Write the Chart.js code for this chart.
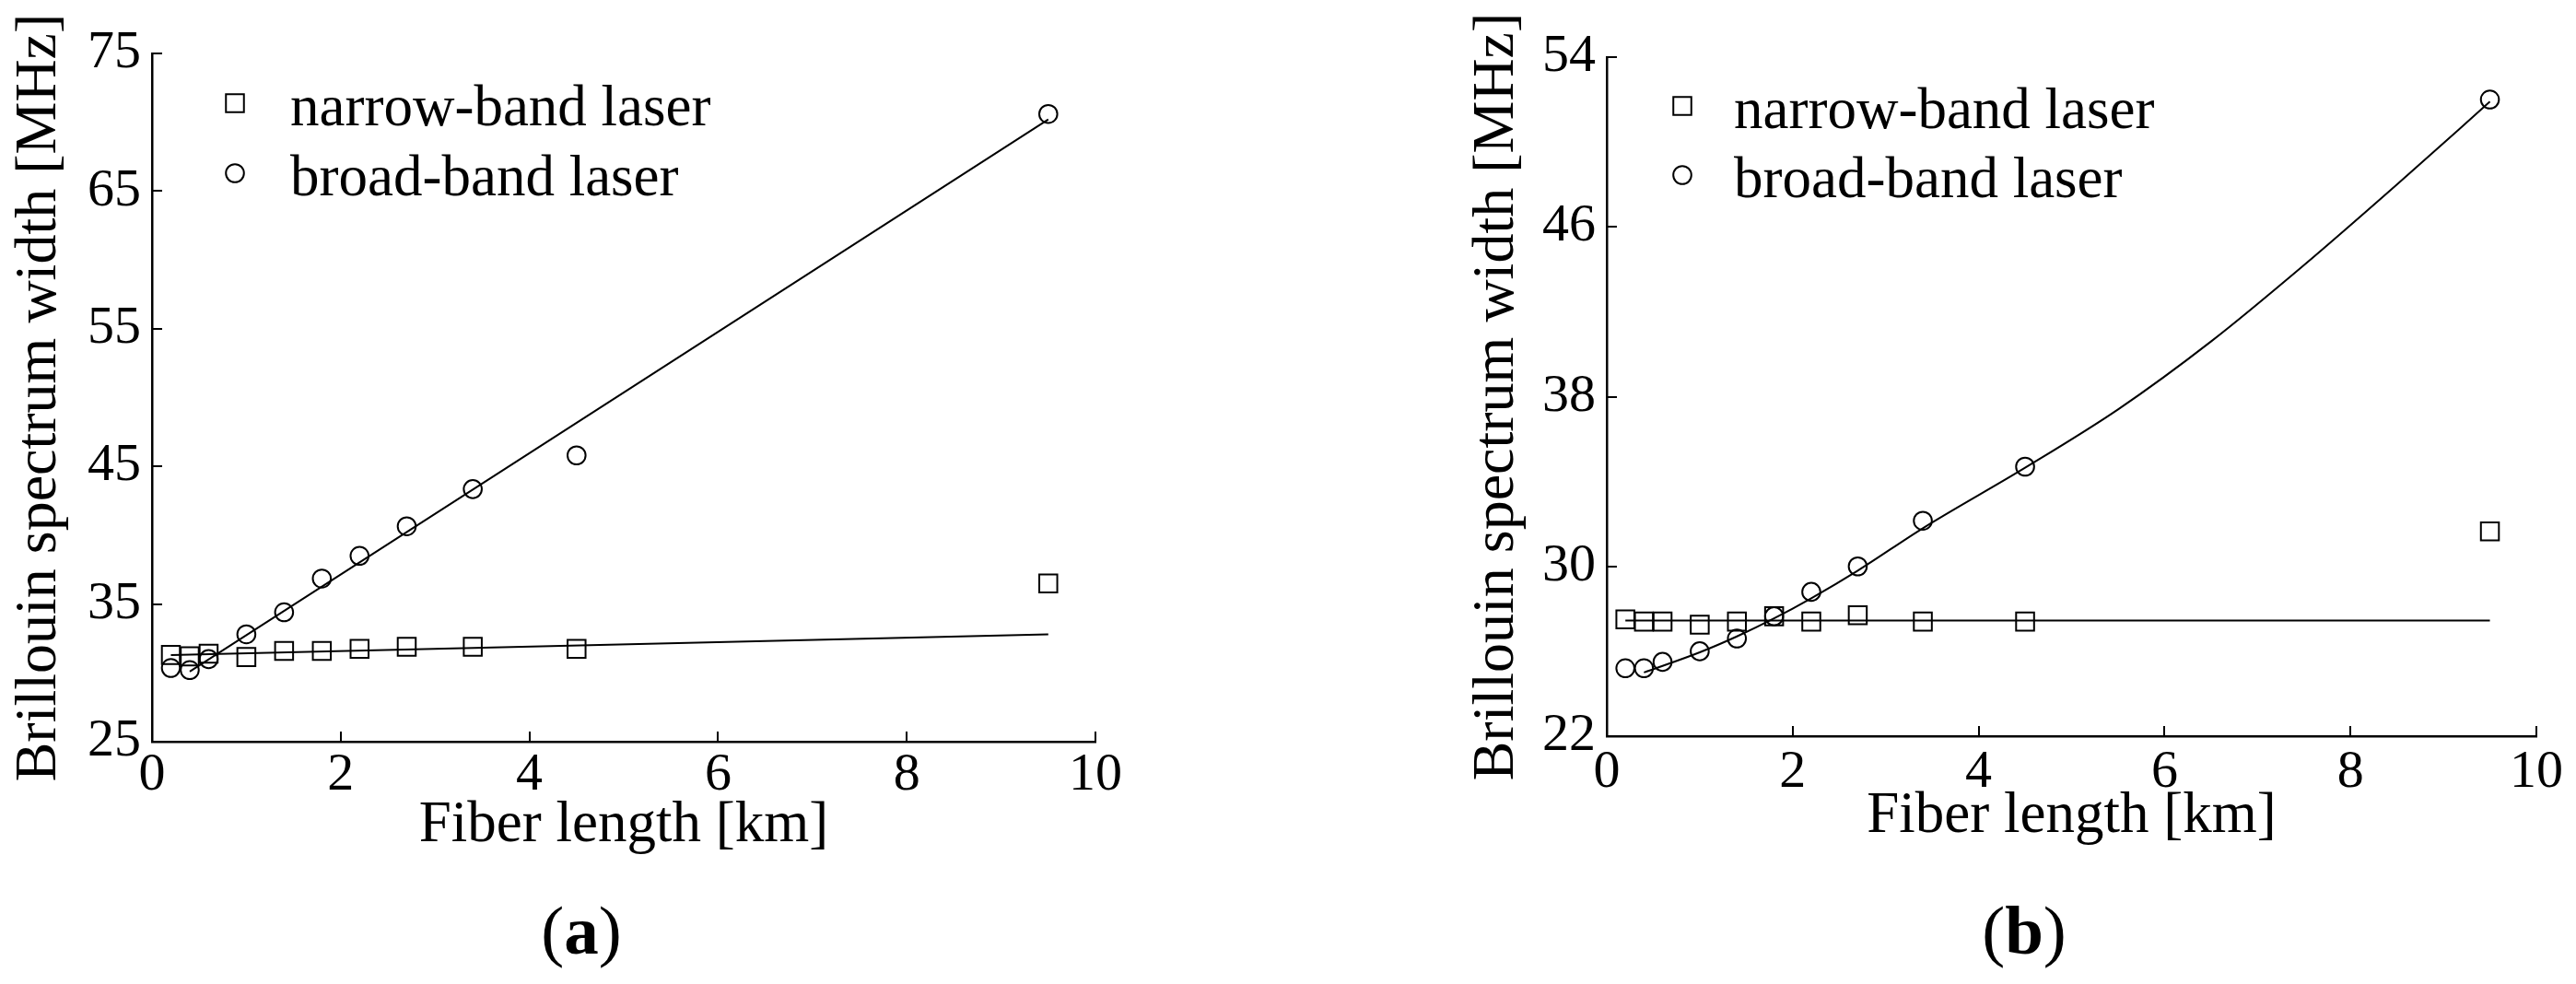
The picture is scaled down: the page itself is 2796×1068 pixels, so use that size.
<!DOCTYPE html>
<html>
<head>
<meta charset="utf-8">
<title>Brillouin spectrum width vs fiber length</title>
<script src="https://cdn.jsdelivr.net/npm/chart.js@4.4.1/dist/chart.umd.min.js"></script>
<style>
    html, body { margin: 0; padding: 0; background: #fff; }
    #wrap { position: relative; width: 2796px; height: 1068px; overflow: hidden; }
    .panel { position: absolute; top: 0; width: 1398px; height: 1068px; }
    .caption {
        position: absolute; top: 972px; width: 300px; margin-left: -150px;
        text-align: center; font: 75px/75px "Liberation Serif", "Times New Roman", serif; color: #000;
    }
</style>
</head>
<body>
<div id="wrap">
    <div class="panel" style="left:0"><canvas id="chartA" width="1398" height="1068"></canvas></div>
    <div class="panel" style="left:1398px"><canvas id="chartB" width="1398" height="1068"></canvas></div>
    <div class="caption" style="left:631px">(<b>a</b>)</div>
    <div class="caption" style="left:2197px">(<b>b</b>)</div>
</div>
<script>
// fiber lengths used for every measurement [km]
const fiberLength = [0.2, 0.4, 0.6, 1.0, 1.4, 1.8, 2.2, 2.7, 3.4, 4.5, 9.5];

// (a) measured widths [MHz]
const narrowA = [31.3, 31.2, 31.4, 31.15, 31.6, 31.6, 31.75, 31.9, 31.9, 31.75, 36.5];
const broadA = [30.35, 30.2, 31.0, 32.8, 34.4, 36.85, 38.5, 40.65, 43.35, 45.8, 70.6];
// (a) fitted lines
const narrowFitAX = [0.2, 9.5];
const narrowFitAY = [31.3, 32.8];
const broadFitAX = [0.4, 9.5];
const broadFitAY = [30.1, 70.2];

// (b) measured widths [MHz]
const narrowB = [27.5, 27.4, 27.4, 27.25, 27.4, 27.65, 27.4, 27.7, 27.4, 27.4, 31.65];
const broadB = [25.2, 25.2, 25.5, 26.0, 26.6, 27.65, 28.8, 30.0, 32.15, 34.7, 52.0];
// (b) fitted lines
const narrowFitBX = [0.2, 9.5];
const narrowFitBY = [27.45, 27.45];
const broadFitBX = [0.4, 1.0, 1.4, 1.8, 2.2, 2.7, 3.4, 4.5, 5.5, 6.5, 7.5, 8.5, 9.5];
const broadFitBY = [25.0, 25.95, 26.7, 27.55, 28.5, 29.8, 31.8, 34.65, 37.4, 40.6, 44.2, 48.0, 51.9];

// axis ticks
const xTicks = { min: 0, max: 10, step: 2 };
const yTicksA = { min: 25, max: 75, step: 10 };
const yTicksB = { min: 22, max: 54, step: 8 };

const FONT = '"Liberation Serif", "Times New Roman", serif';
const TICK_LEN = 11;

/**
 * x/y配列を点データに変換
 */
function toPoints(xs, ys) {
    return xs.map((x, i) => ({ x: x, y: ys[i] }));
}

/**
 * 内向きの目盛り線
 */
const innerTicks = {
    id: 'innerTicks',
    afterDraw(chart) {
        const { ctx, chartArea, scales } = chart;
        ctx.save();
        ctx.strokeStyle = '#000';
        ctx.lineWidth = 2;
        ctx.beginPath();
        scales.x.ticks.forEach(t => {
            const px = Math.round(scales.x.getPixelForValue(t.value));
            ctx.moveTo(px, chartArea.bottom);
            ctx.lineTo(px, chartArea.bottom - TICK_LEN);
        });
        scales.y.ticks.forEach(t => {
            const py = Math.round(scales.y.getPixelForValue(t.value));
            ctx.moveTo(chartArea.left, py);
            ctx.lineTo(chartArea.left + TICK_LEN, py);
        });
        ctx.stroke();
        ctx.restore();
    }
};

/**
 * プロット内の凡例
 */
const innerLegend = {
    id: 'innerLegend',
    afterDraw(chart, args, opts) {
        const { ctx, chartArea } = chart;
        ctx.save();
        ctx.strokeStyle = '#000';
        ctx.fillStyle = '#000';
        ctx.lineWidth = 2;
        ctx.font = `${opts.fontSize}px ${FONT}`;
        ctx.textBaseline = 'alphabetic';
        chart.data.datasets.filter(ds => ds.legendText).forEach((ds, i) => {
            const mx = chartArea.left + opts.markerX;
            const my = chartArea.top + opts.rowY[i];
            ctx.beginPath();
            if (ds.pointStyle === 'rect') {
                const h = ds.pointRadius * Math.SQRT1_2;
                ctx.rect(mx - h, my - h, 2 * h, 2 * h);
            } else {
                ctx.arc(mx, my, ds.pointRadius, 0, Math.PI * 2);
            }
            ctx.stroke();
            ctx.fillText(ds.legendText, mx + opts.textX, my + 24);
        });
        ctx.restore();
    }
};

/**
 * グラフを作成
 */
function makeChart(canvasId, cfg) {
    const canvas = document.getElementById(canvasId);
    const H = canvas.height;
    const W = canvas.width;
    return new Chart(canvas, {
        type: 'scatter',
        data: {
            datasets: [
                {
                    legendText: 'narrow-band laser',
                    data: toPoints(fiberLength, cfg.narrow),
                    pointStyle: 'rect', pointRadius: 13.8, pointBorderWidth: 2,
                    borderColor: '#000', backgroundColor: 'rgba(0,0,0,0)', showLine: false
                },
                {
                    legendText: 'broad-band laser',
                    data: toPoints(fiberLength, cfg.broad),
                    pointStyle: 'circle', pointRadius: 9.8, pointBorderWidth: 2,
                    borderColor: '#000', backgroundColor: 'rgba(0,0,0,0)', showLine: false
                },
                {
                    data: toPoints(cfg.narrowFitX, cfg.narrowFitY),
                    showLine: true, pointRadius: 0, borderWidth: 2, borderColor: '#000'
                },
                {
                    data: toPoints(cfg.broadFitX, cfg.broadFitY),
                    showLine: true, pointRadius: 0, borderWidth: 2, borderColor: '#000',
                    tension: 0.4, cubicInterpolationMode: 'monotone'
                }
            ]
        },
        options: {
            responsive: false,
            animation: false,
            devicePixelRatio: 1,
            clip: false,
            layout: { padding: { left: 0, top: cfg.top, right: W - cfg.right, bottom: 0 } },
            plugins: {
                legend: { display: false },
                tooltip: { enabled: false },
                innerLegend: { fontSize: 63, markerX: cfg.legendX, textX: cfg.legendTextX, rowY: cfg.legendRows }
            },
            scales: {
                x: {
                    type: 'linear', min: xTicks.min, max: xTicks.max,
                    ticks: { stepSize: xTicks.step, padding: cfg.xTickPad, color: '#000', maxRotation: 0, font: { family: FONT, size: 58 } },
                    grid: { display: false, drawTicks: false },
                    border: { display: true, color: '#000', width: 2.5 },
                    title: {
                        display: true, text: 'Fiber length [km]', color: '#000',
                        font: { family: FONT, size: 63 }, padding: { top: 0, bottom: cfg.xTitlePad }
                    },
                    afterFit: s => { s.height = H - cfg.bottom; }
                },
                y: {
                    type: 'linear', min: cfg.yTicks.min, max: cfg.yTicks.max,
                    ticks: { stepSize: cfg.yTicks.step, padding: 12, color: '#000', font: { family: FONT, size: 58 } },
                    grid: { display: false, drawTicks: false },
                    border: { display: true, color: '#000', width: 2.5 },
                    title: {
                        display: true, text: 'Brillouin spectrum width [MHz]', color: '#000',
                        font: { family: FONT, size: 64 }, padding: { top: cfg.yTitlePad, bottom: 0 }
                    },
                    afterFit: s => { s.width = cfg.left; }
                }
            }
        },
        plugins: [innerTicks, innerLegend]
    });
}

document.addEventListener('DOMContentLoaded', () => {
    makeChart('chartA', {
        narrow: narrowA, broad: broadA,
        narrowFitX: narrowFitAX, narrowFitY: narrowFitAY,
        broadFitX: broadFitAX, broadFitY: broadFitAY,
        yTicks: yTicksA,
        left: 165, right: 1189, top: 58, bottom: 805,
        xTickPad: 2, xTitlePad: 134, yTitlePad: 5,
        legendX: 90, legendTextX: 60, legendRows: [54, 130]
    });
    makeChart('chartB', {
        narrow: narrowB, broad: broadB,
        narrowFitX: narrowFitBX, narrowFitY: narrowFitBY,
        broadFitX: broadFitBX, broadFitY: broadFitBY,
        yTicks: yTicksB,
        left: 346, right: 1355, top: 62, bottom: 799,
        xTickPad: 5, xTitlePad: 144, yTitlePad: 189,
        legendX: 82, legendTextX: 56, legendRows: [53, 128]
    });
});
</script>
</body>
</html>
